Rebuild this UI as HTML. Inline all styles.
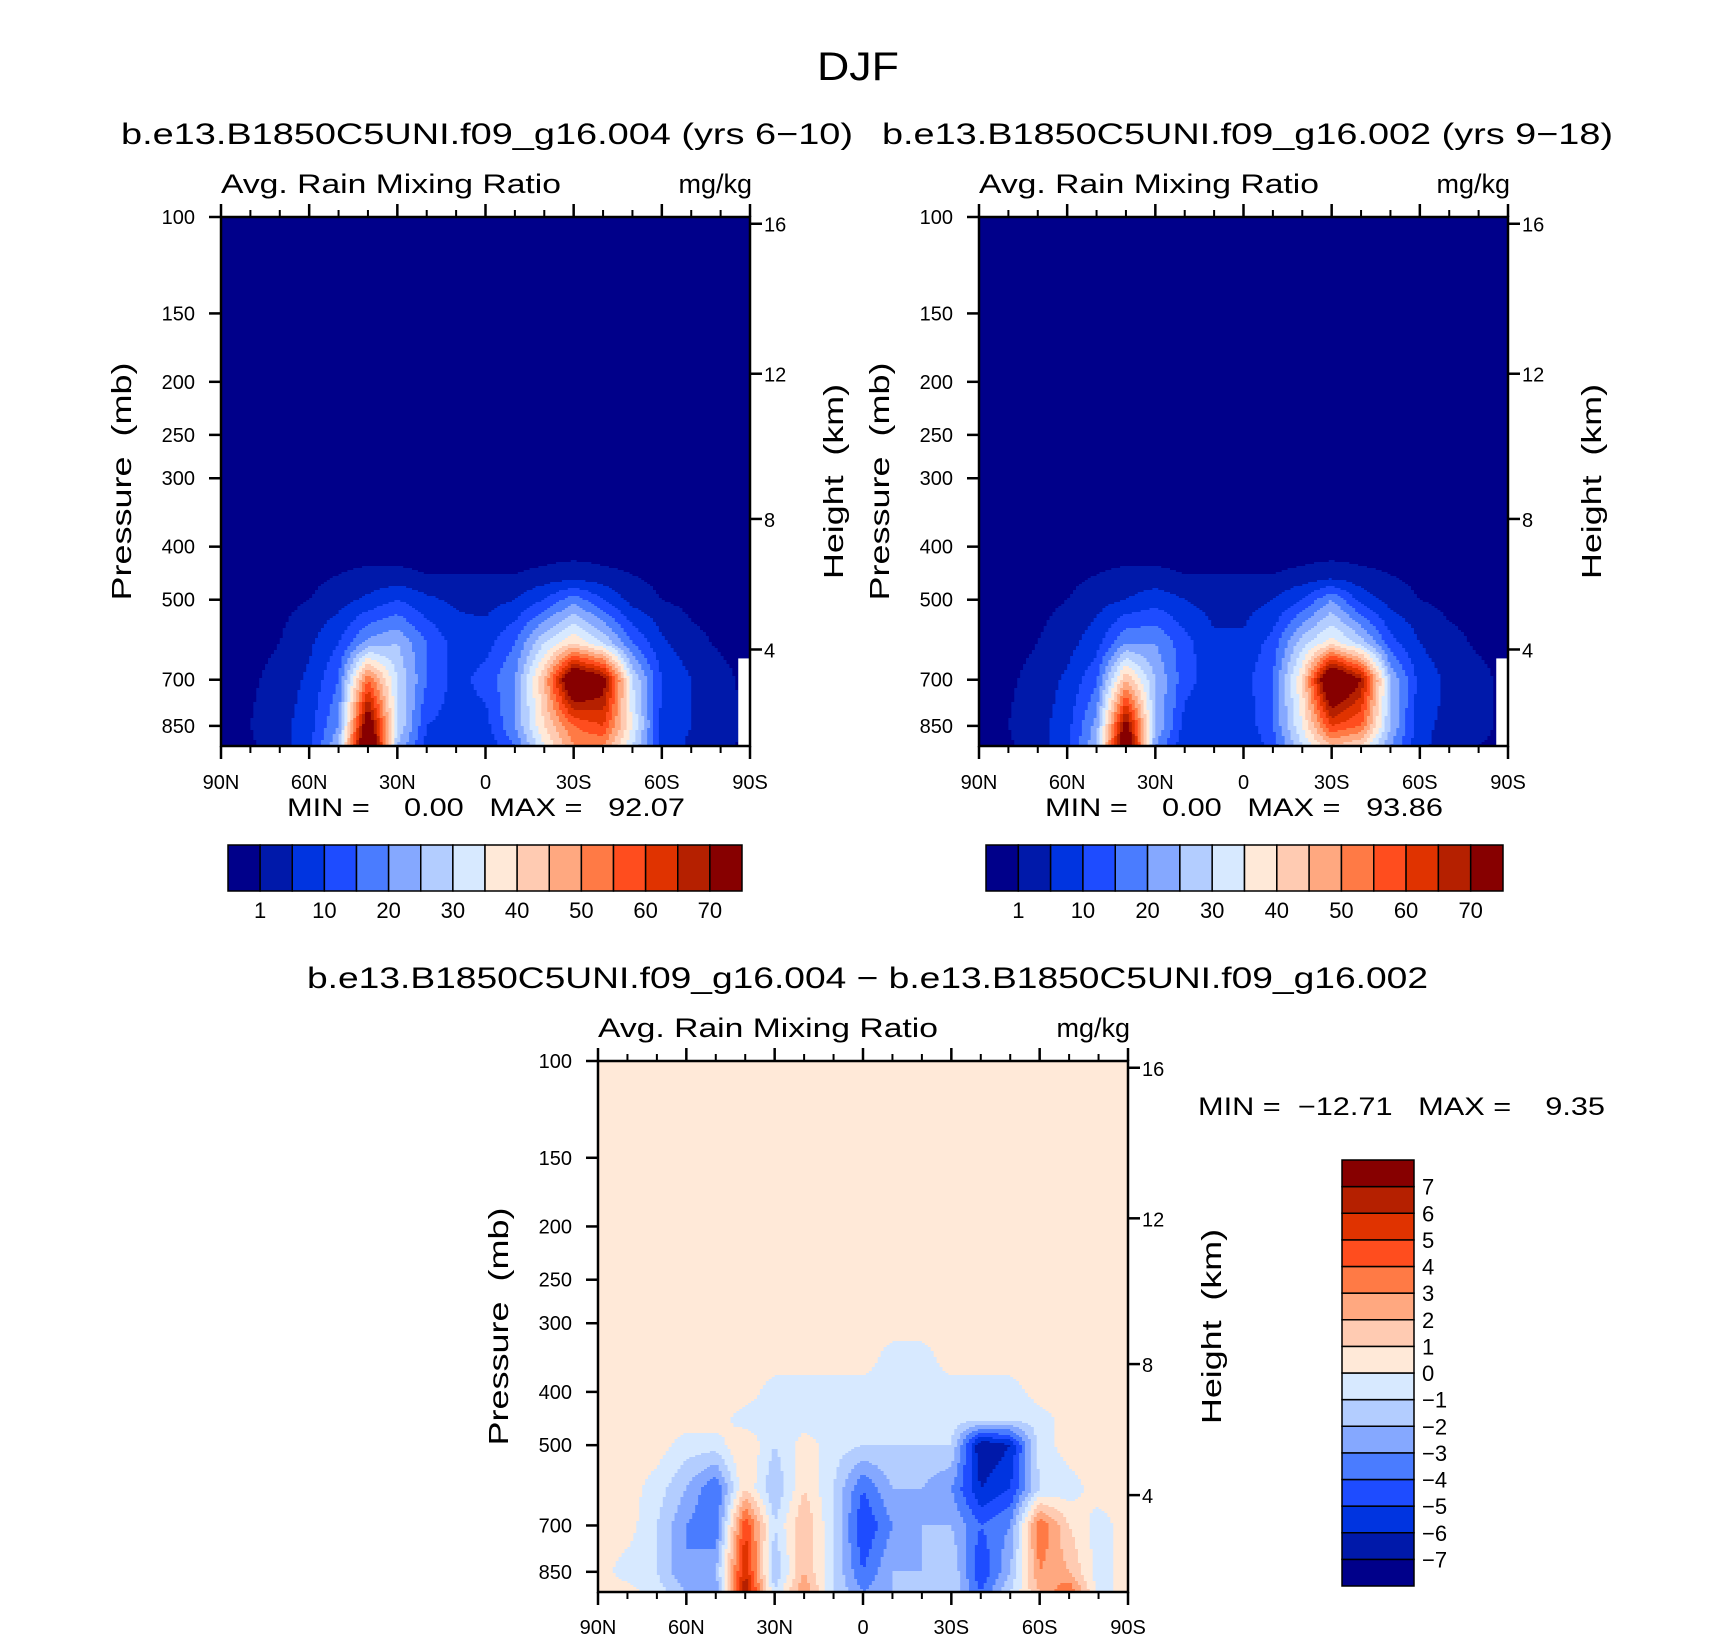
<!DOCTYPE html>
<html><head><meta charset="utf-8"><title>DJF Avg. Rain Mixing Ratio</title>
<style>html,body{margin:0;padding:0;background:#fff;}svg{display:block;}text{font-family:"Liberation Sans",sans-serif;fill:#000;white-space:pre;}</style>
</head><body>
<svg id="fig" width="1710" height="1639" viewBox="0 0 1710 1639" xmlns="http://www.w3.org/2000/svg">
<text x="817" y="80" font-size="40" textLength="82" lengthAdjust="spacingAndGlyphs">DJF</text>
<text x="121" y="144" font-size="30" textLength="732" lengthAdjust="spacingAndGlyphs">b.e13.B1850C5UNI.f09_g16.004 (yrs 6−10)</text>
<text x="882" y="144" font-size="30" textLength="731" lengthAdjust="spacingAndGlyphs">b.e13.B1850C5UNI.f09_g16.002 (yrs 9−18)</text>
<text x="307" y="988" font-size="30" textLength="1121" lengthAdjust="spacingAndGlyphs">b.e13.B1850C5UNI.f09_g16.004 − b.e13.B1850C5UNI.f09_g16.002</text>
<g id="layer"></g>
</svg>
<script>
// ---- data ----
const lats = [90,80,70,60,50,40,30,20,10,0,-10,-20,-30,-40,-50,-60,-70,-80,-90];
const levelsAB = [925,850,700,600,500,450,400];
const fieldA925 = [0,0.5,3,8,25,90,25,8,6,6,15,35,50,50,30,8,4,2,0];
const fieldA850 = [0,1,3,8,20,80,30,10,8,8,20,40,55,60,35,8,5,3,0];
const fieldA700 = [0,0.5,2,6,15,55,30,15,8,12,20,45,85,75,30,10,5,2,0];
const fieldA600 = [0,0,1,4,10,22,25,15,8,8,15,30,40,30,15,6,2,0.5,0];
const fieldA500 = [0,0,0,1,3,6,10,6,4,3,5,10,18,10,3,1,0,0,0];
const fieldA450 = [0,0,0,0,1,1.5,1.5,1,1,1,1,1.5,2,1.5,1,0,0,0,0];
const fieldA400 = [0,0,0,0,0,0,0,0,0,0,0,0,0,0,0,0,0,0,0];
const fieldB925 = [0,0.5,3,8,25,85,20,6,5,5,12,30,45,40,20,6,3,1,0];
const fieldB850 = [0,1,3,8,22,75,25,8,6,6,15,35,60,55,25,6,4,2,0];
const fieldB700 = [0,0.5,2,6,14,45,25,12,7,8,15,40,88,70,25,8,4,2,0];
const fieldB600 = [0,0,1,3,8,20,20,12,6,6,12,28,38,28,12,5,2,0.5,0];
const fieldB500 = [0,0,0,1,3,5,8,5,3,3,5,10,20,8,3,1,0,0,0];
const fieldB450 = [0,0,0,0,1,1.5,1.5,1,1,1,1,1.5,2,1.5,1,0,0,0,0];
const fieldB400 = [0,0,0,0,0,0,0,0,0,0,0,0,0,0,0,0,0,0,0];
const levelsD = [925,850,700,600,500,450,400,350,300];
const fieldD925 = [0.5,0.5,-0.5,-2,-3,7,-1,3,-1,-3,-2,-1,-1,-4,-1,2,4,-0.5,0.5];
const fieldD850 = [0.5,-0.5,-1,-3,-2,6,-2,2,-1,-4,-2,-2,-1,-5,-2,3,2,-0.5,0.5];
const fieldD700 = [0.5,0.5,-1,-3,-4,5,-1,2,-1,-5,-3,-2,-2,-4,-3,4,1,-0.5,0.5];
const fieldD600 = [0.5,0.5,-0.5,-2,-4,1,-2,1,-1,-4,-2,-2,-3,-6,-5,-1,-0.5,0.5,0.5];
const fieldD500 = [0.5,0.5,0.5,-0.5,-0.5,1,-1,0.5,-0.5,-1,-1,-1,-1,-7,-6,-0.5,0.5,0.5,0.5];
const fieldD450 = [0.5,0.5,0.5,0.5,0.5,-0.5,-0.5,-0.5,-0.5,-0.5,-0.5,-0.5,-0.5,-1,-1,-0.5,0.5,0.5,0.5];
const fieldD400 = [0.5,0.5,0.5,0.5,0.5,0.5,-0.5,-0.5,-0.5,-0.5,-0.5,-0.5,-0.5,-0.5,-0.5,0.5,0.5,0.5,0.5];
const fieldD350 = [0.5,0.5,0.5,0.5,0.5,0.5,0.5,0.5,0.5,0.5,-0.5,-0.5,0.5,0.5,0.5,0.5,0.5,0.5,0.5];
const fieldD300 = [0.5,0.5,0.5,0.5,0.5,0.5,0.5,0.5,0.5,0.5,0.5,0.5,0.5,0.5,0.5,0.5,0.5,0.5,0.5];
const contourLevelsAB = [1,5,10,15,20,25,30,35,40,45,50,55,60,65,70];
const cbLabelsAB = ["1","10","20","30","40","50","60","70"];
const contourLevelsD = [-7,-6,-5,-4,-3,-2,-1,0,1,2,3,4,5,6,7];
const cbLabelsD = ["−7","−6","−5","−4","−3","−2","−1","0","1","2","3","4","5","6","7"];
const palette = ["#00008a","#0019aa","#0034e0","#1e4cff","#4a7cff","#85a8ff","#b3cdff","#d7e9ff","#ffe9d8","#ffcbb2","#ffa880","#ff7a45","#ff4d1e","#e03300","#b52000","#870000"];
const pTicks = [100,150,200,250,300,400,500,700,850];
const hTicks = [4,8,12,16];
const latMajor = [90,60,30,0,-30,-60,-90];
const latMajorLabels = ["90N","60N","30N","0","30S","60S","90S"];
const latMinor = [80,70,50,40,20,10,-10,-20,-40,-50,-70,-80];
const missingLat = -86;
const missingP = 640;
const minmaxA = ["0.00","92.07"];
const minmaxB = ["0.00","93.86"];
const minmaxD = ["−12.71","9.35"];

// ---- rendering ----
const NS = "http://www.w3.org/2000/svg";
const layer = document.getElementById('layer');
function mk(tag, attrs, parent){const e=document.createElementNS(NS,tag);for(const k in attrs)e.setAttribute(k,attrs[k]);(parent||layer).appendChild(e);return e;}
function heightToP(z){ if(z<=11) return 1013.25*Math.pow(1-6.5*z/288.15,5.2559); return 226.32*Math.exp(-(z-11)/6.3416); }

function drawPanel(P){
  const g = mk('g',{});
  
  
  const W=P.x1-P.x0, H=P.y1-P.y0;
  const xOf = lat => P.x0 + (90-lat)/180*W;
  const yOf = p => P.y0 + H*Math.log(p/100)/Math.log(925/100);
  const pOf = y => 100*Math.exp((y-P.y0)/H*Math.log(9.25));
  const colorIdx = v => {let i=0; for(const l of P.levels) if(v>=l) i++; return i;};
  function val(lat,p){
    const L=P.plevs, F=P.rows;
    let fi = (90-lat)/10; let i0=Math.min(Math.floor(fi),17); let fx=fi-i0;
    const rowVal = r => F[r][i0]*(1-fx)+F[r][i0+1]*fx;
    if(p>=L[0]) return rowVal(0);
    if(p<=L[L.length-1]) return rowVal(L.length-1);
    for(let r=0;r<L.length-1;r++){ if(p<=L[r] && p>=L[r+1]){ const t=Math.log(L[r]/p)/Math.log(L[r]/L[r+1]); return rowVal(r)*(1-t)+rowVal(r+1)*t; } }
    return 0;
  }
  const bg = mk('rect',{x:P.x0,y:P.y0,width:W,height:H,fill:palette[colorIdx(val(0,100))]},g);
  
  
  const yTop = yOf(P.plevs[P.plevs.length-1]);
  const dy=2, nx=180;
  for(let y=Math.floor(yTop); y<P.y1; y+=dy){
    const p = pOf(y+dy/2);
    let runStart=0, runC=null;
    for(let i=0;i<=nx;i++){
      let c=null;
      if(i<nx){ const lat=90-(i+0.5); c=colorIdx(val(lat,p)); }
      if(c!==runC){
        if(runC!==null){
          const r = mk('rect',{x:(P.x0+runStart*W/nx).toFixed(2),y:y,width:((i-runStart)*W/nx+0.6).toFixed(2),height:Math.min(dy+0.5,P.y1-y),fill:palette[runC]},g);
          
          
        }
        runStart=i; runC=c;
      }
    }
  }
  if(P.missing){
    const m = mk('rect',{x:xOf(missingLat),y:yOf(missingP),width:P.x1-xOf(missingLat),height:P.y1-yOf(missingP),fill:'#fff'},g);
    
    
  }
  const fr = mk('rect',{x:P.x0,y:P.y0,width:W,height:H,fill:'none',stroke:'#000','stroke-width':2.5},g);
  
  
  pTicks.forEach(p=>{
    const y=yOf(p);
    mk('line',{x1:P.x0-12,x2:P.x0,y1:y,y2:y,stroke:'#000','stroke-width':2.5},g);
    const t=mk('text',{x:P.x0-26,y:y+7,'font-size':20,'text-anchor':'end'},g);
    t.textContent=p;
    
    
  });
  hTicks.forEach(z=>{
    const y=yOf(heightToP(z));
    mk('line',{x1:P.x1,x2:P.x1+12,y1:y,y2:y,stroke:'#000','stroke-width':2.5},g);
    const t=mk('text',{x:P.x1+14,y:y+8,'font-size':20},g);
    t.textContent=z;
    
    
  });
  latMajor.forEach((lat,k)=>{
    const x=xOf(lat);
    mk('line',{x1:x,x2:x,y1:P.y0-13,y2:P.y0,stroke:'#000','stroke-width':2.5},g);
    mk('line',{x1:x,x2:x,y1:P.y1,y2:P.y1+13,stroke:'#000','stroke-width':2.5},g);
    const t=mk('text',{x:x,y:P.latY,'font-size':20,'text-anchor':'middle'},g);
    t.textContent=latMajorLabels[k];
    
    
  });
  latMinor.forEach(lat=>{
    const x=xOf(lat);
    mk('line',{x1:x,x2:x,y1:P.y0-7,y2:P.y0,stroke:'#000','stroke-width':2},g);
    mk('line',{x1:x,x2:x,y1:P.y1,y2:P.y1+7,stroke:'#000','stroke-width':2},g);
  });
  const a=mk('text',{x:P.x0,y:P.y0-24,'font-size':27,textLength:340,lengthAdjust:'spacingAndGlyphs'},g);
  a.textContent='Avg. Rain Mixing Ratio';
  
  
  const u=mk('text',{x:P.x1+2,y:P.y0-24,'font-size':27,'text-anchor':'end'},g);
  u.textContent='mg/kg';
  
  
  const cy=(P.y0+P.y1)/2;
  const pt=mk('text',{x:0,y:0,'font-size':28,'text-anchor':'middle',textLength:238,lengthAdjust:'spacingAndGlyphs',transform:`translate(${P.x0-90},${cy}) rotate(-90)`},g);
  pt.textContent='Pressure  (mb)';
  
  
  const ht=mk('text',{x:0,y:0,'font-size':28,'text-anchor':'middle',textLength:195,lengthAdjust:'spacingAndGlyphs',transform:`translate(${P.x1+93},${cy}) rotate(-90)`},g);
  ht.textContent='Height  (km)';
  
  
}

function drawMinMax(x,y,len,vals,name){
  const t=mk('text',{x:x,y:y,'font-size':25,textLength:len,lengthAdjust:'spacingAndGlyphs'});
  t.textContent='MIN = '+vals[0].padStart(7,' ')+'   MAX = '+vals[1].padStart(7,' ');
  
  
}

function drawHBar(x0,x1,y0,y1,name){
  const g=mk('g',{});
  
  
  const n=palette.length, w=(x1-x0)/n;
  palette.forEach((c,i)=>{
    const r=mk('rect',{x:x0+i*w,y:y0,width:w,height:y1-y0,fill:c,stroke:'#000','stroke-width':1.5},g);
    
    
  });
  cbLabelsAB.forEach((lab,k)=>{
    const idx=contourLevelsAB.indexOf(Number(lab));
    const t=mk('text',{x:x0+(idx+1)*w,y:y1+27,'font-size':22,'text-anchor':'middle'},g);
    t.textContent=lab;
    
    
  });
}

function drawVBar(x0,x1,y0,y1,name){
  const g=mk('g',{});
  
  
  const n=palette.length, h=(y1-y0)/n;
  palette.forEach((c,i)=>{
    const r=mk('rect',{x:x0,y:y1-(i+1)*h,width:x1-x0,height:h,fill:c,stroke:'#000','stroke-width':1.5},g);
    
    
  });
  cbLabelsD.forEach((lab,k)=>{
    const t=mk('text',{x:x1+8,y:y1-(k+1)*h+8,'font-size':22},g);
    t.textContent=lab;
    
    
  });
}

drawPanel({name:'panel-004',x0:221,x1:750,y0:217,y1:746,latY:789,levels:contourLevelsAB,plevs:levelsAB,
  rows:[fieldA925,fieldA850,fieldA700,fieldA600,fieldA500,fieldA450,fieldA400],missing:true});
drawPanel({name:'panel-002',x0:979,x1:1508,y0:217,y1:746,latY:789,levels:contourLevelsAB,plevs:levelsAB,
  rows:[fieldB925,fieldB850,fieldB700,fieldB600,fieldB500,fieldB450,fieldB400],missing:true});
drawPanel({name:'panel-difference',x0:598,x1:1128,y0:1061,y1:1592,latY:1634,levels:contourLevelsD,plevs:levelsD,
  rows:[fieldD925,fieldD850,fieldD700,fieldD600,fieldD500,fieldD450,fieldD400,fieldD350,fieldD300],missing:false});
drawMinMax(287,816,398,minmaxA,'minmax-004');
drawMinMax(1045,816,398,minmaxB,'minmax-002');
drawMinMax(1198,1115,407,minmaxD,'minmax-difference');
drawHBar(228,742,845,891,'colorbar-004');
drawHBar(986,1503,845,891,'colorbar-002');
drawVBar(1342,1414,1160,1586,'colorbar-difference');
</script>
</body></html>
